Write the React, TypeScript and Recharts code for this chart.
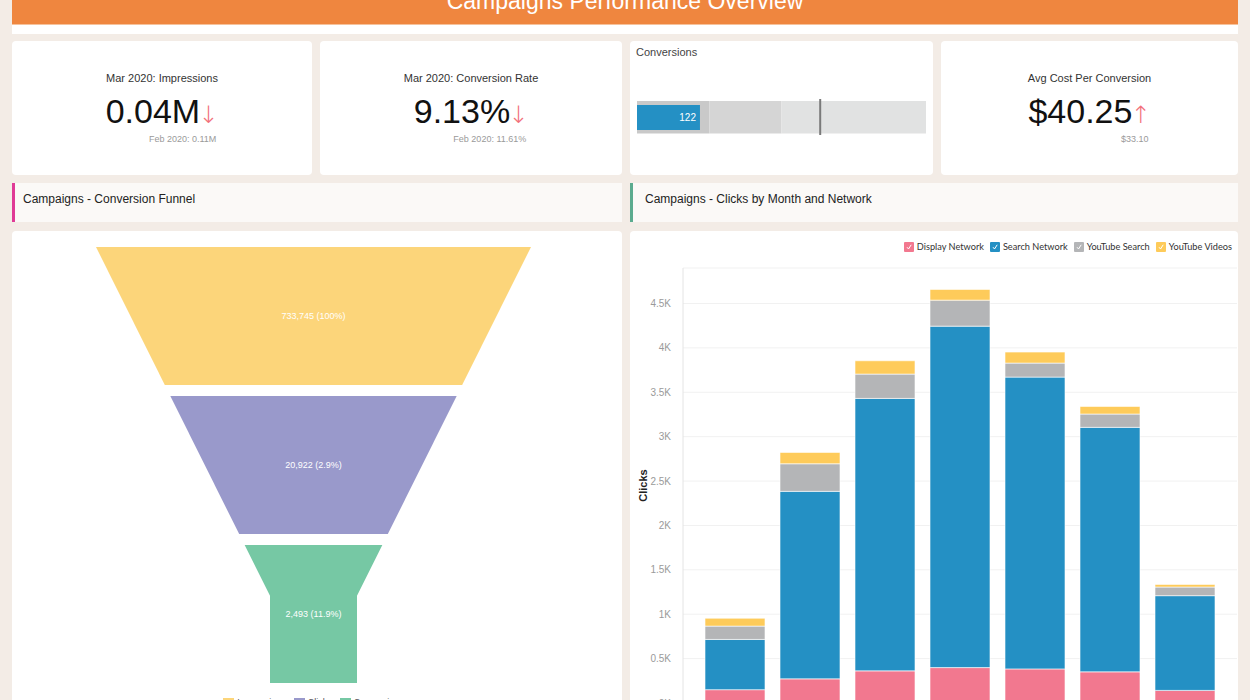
import React from 'react';
import {
  BarChart,
  Bar,
  XAxis,
  YAxis,
  CartesianGrid,
  Label,
  FunnelChart,
  Funnel,
  ComposedChart,
  ReferenceLine,
  LabelList,
} from 'recharts';

// clicks by month and network
const months = ['Sep 2019', 'Oct 2019', 'Nov 2019', 'Dec 2019', 'Jan 2020', 'Feb 2020', 'Mar 2020'];
const displayNetwork = [150, 272, 362, 399, 384, 351, 142];
const searchNetwork = [566, 2112, 3069, 3846, 3287, 2754, 1067];
const youtubeSearch = [150, 311, 274, 293, 158, 150, 97];
const youtubeVideos = [89, 128, 150, 121, 124, 86, 30];
const clickTicks = [0, 500, 1000, 1500, 2000, 2500, 3000, 3500, 4000, 4500];

const networkSeries = [
  { key: 'display', name: 'Display Network', color: '#f2788f', values: displayNetwork },
  { key: 'search', name: 'Search Network', color: '#2490c4', values: searchNetwork },
  { key: 'ytSearch', name: 'YouTube Search', color: '#b4b5b7', values: youtubeSearch },
  { key: 'ytVideos', name: 'YouTube Videos', color: '#fecb5a', values: youtubeVideos },
];

// conversion funnel
const funnelStages = ['Impressions', 'Clicks', 'Conversions'];
const funnelValues = [733745, 20922, 2493];
const funnelColors = ['#fcd57a', '#9999cb', '#76c8a4'];

// conversions bullet
const conversionsValue = 122;
const conversionsTarget = 355;
const conversionsRanges = [140, 280, 560];
const rangeColors = ['#c9c9c9', '#d5d5d5', '#e1e2e2'];

// kpi cards
const kpiTitles = ['Mar 2020: Impressions', 'Mar 2020: Conversion Rate', 'Avg Cost Per Conversion'];
const kpiValues = ['0.04M', '9.13%', '$40.25'];
const kpiTrends = ['down', 'down', 'up'];
const kpiPrevious = ['Feb 2020: 0.11M', 'Feb 2020: 11.61%', '$33.10'];
const kpiBoxes = [
  { left: 12, width: 300 },
  { left: 320, width: 302 },
  { left: 941, width: 297 },
];

const clicksData = months.map((m, i) => {
  const row: Record<string, any> = { month: m };
  networkSeries.forEach((s) => (row[s.key] = s.values[i]));
  return row;
});

const funnelData = funnelStages.map((name, i) => ({
  name,
  value: funnelValues[i],
  pct: i === 0 ? '100%' : ((funnelValues[i] / funnelValues[i - 1]) * 100).toFixed(1) + '%',
}));

const bulletData = [
  {
    name: 'Conversions',
    r0: conversionsRanges[0],
    r1: conversionsRanges[1] - conversionsRanges[0],
    r2: conversionsRanges[2] - conversionsRanges[1],
    value: conversionsValue,
  },
];

const FONT = '"Liberation Sans", Arial, Helvetica, sans-serif';

// funnel geometry (one cone with a neck, split in equal rows)
const FUNNEL_TOP = 16;
const FUNNEL_CX = 301.5;
const FUNNEL_W = 435;
const NECK_W = 0.2;
const NECK_H = 0.2;
const FUNNEL_GAP = 11;

function FunnelSegment(props: any) {
  const { y, height } = props;
  const idx = Math.round((y - FUNNEL_TOP) / height);
  const total = height * funnelData.length - FUNNEL_GAP;
  const neckY = FUNNEL_TOP + total * (1 - NECK_H);
  const neckW = FUNNEL_W * NECK_W;
  const halfAt = (yy: number) =>
    yy >= neckY ? neckW / 2 : (FUNNEL_W - ((FUNNEL_W - neckW) * (yy - FUNNEL_TOP)) / (neckY - FUNNEL_TOP)) / 2;
  const y0 = y;
  const y1 = y + height - FUNNEL_GAP;
  const ys = [y0];
  if (neckY > y0 && neckY < y1) ys.push(neckY);
  ys.push(y1);
  const left = ys.map((yy) => `${FUNNEL_CX - halfAt(yy)},${yy}`);
  const right = ys
    .slice()
    .reverse()
    .map((yy) => `${FUNNEL_CX + halfAt(yy)},${yy}`);
  const d = funnelData[idx];
  return (
    <g>
      <polygon points={[...left, ...right].join(' ')} fill={funnelColors[idx]} />
      <text x={FUNNEL_CX} y={(y0 + y1) / 2 + 3} textAnchor="middle" fill="#fff" fontSize={9} fontFamily={FONT}>
        {d.value.toLocaleString('en-US')} ({d.pct})
      </text>
    </g>
  );
}

function Check({ color }: { color: string }) {
  return (
    <svg width={10} height={10} style={{ display: 'block' }}>
      <rect width={10} height={10} rx={1} fill={color} />
      <polyline points="3,5.2 4.5,7 7.2,2.8" fill="none" stroke="#fff" strokeWidth={1} />
    </svg>
  );
}

function KpiCard({ i }: { i: number }) {
  const box = kpiBoxes[i];
  return (
    <div style={{ position: 'absolute', top: 41, left: box.left, width: box.width, height: 134, background: '#fff', borderRadius: 4 }}>
      <div style={{ position: 'absolute', top: 30, width: '100%', textAlign: 'center', fontSize: 11, lineHeight: '14px', color: '#333' }}>
        {kpiTitles[i]}
      </div>
      <div style={{ position: 'absolute', top: 51, width: '100%', textAlign: 'center' }}>
        <div style={{ display: 'inline-block', textAlign: 'right' }}>
          <div style={{ fontSize: 34, lineHeight: '38px', color: '#111', whiteSpace: 'nowrap' }}>
            {kpiValues[i]}
            <span style={{ fontSize: 24, color: '#f2707a', fontFamily: '"DejaVu Sans", sans-serif', fontWeight: 200, marginLeft: -2 }}>
              {kpiTrends[i] === 'down' ? '↓' : '↑'}
            </span>
          </div>
          <div style={{ fontSize: 9, lineHeight: '12px', color: '#9a9a9a', marginTop: -1, marginRight: 2 }}>{kpiPrevious[i]}</div>
        </div>
      </div>
    </div>
  );
}

export default function App() {
  return (
    <div style={{ position: 'fixed', left: 0, top: 0, width: 1250, height: 700, overflow: 'hidden', background: '#f3ece6', fontFamily: FONT }}>
      {/* header */}
      <div style={{ position: 'absolute', left: 12, top: 0, width: 1226, height: 34, background: '#fff' }} />
      <div style={{ position: 'absolute', left: 12, top: 0, width: 1226, height: 24, background: '#ef863f', borderBottom: '1px solid #f6c29c' }} />
      <div style={{ position: 'absolute', left: 12, top: -10, width: 1226, textAlign: 'center', fontSize: 23, lineHeight: '23px', color: '#fff' }}>
        Campaigns Performance Overview
      </div>

      {/* kpis */}
      <KpiCard i={0} />
      <KpiCard i={1} />
      <KpiCard i={2} />
      <div style={{ position: 'absolute', top: 41, left: 630, width: 303, height: 134, background: '#fff', borderRadius: 4 }}>
        <div style={{ position: 'absolute', top: 4, left: 6, fontSize: 11, lineHeight: '14px', color: '#444' }}>Conversions</div>
        <div style={{ position: 'absolute', top: 58, left: 7 }}>
          <ComposedChart layout="vertical" width={289} height={36} data={bulletData} margin={{ top: 0, right: 0, bottom: 0, left: 0 }} barCategoryGap={0}>
            <XAxis type="number" domain={[0, conversionsRanges[2]]} hide />
            <YAxis yAxisId="range" type="category" dataKey="name" hide />
            <YAxis yAxisId="value" type="category" dataKey="name" hide />
            <Bar yAxisId="range" dataKey="r0" stackId="r" fill={rangeColors[0]} barSize={36} isAnimationActive={false} />
            <Bar yAxisId="range" dataKey="r1" stackId="r" fill={rangeColors[1]} barSize={36} isAnimationActive={false} />
            <Bar yAxisId="range" dataKey="r2" stackId="r" fill={rangeColors[2]} barSize={36} isAnimationActive={false} />
            <Bar yAxisId="value" dataKey="value" fill="#2490c4" barSize={25} isAnimationActive={false}>
              <LabelList dataKey="value" position="insideRight" offset={4} fill="#fff" fontSize={10} fontFamily={FONT} />
            </Bar>
            <ReferenceLine yAxisId="value" x={conversionsTarget} stroke="#7a7a7a" strokeWidth={2} />
          </ComposedChart>
        </div>
      </div>

      {/* section headers */}
      <div style={{ position: 'absolute', left: 12, top: 183, width: 607, height: 39, background: '#fbf9f7', borderLeft: '3px solid #e03a96' }}>
        <div style={{ position: 'absolute', left: 8, top: 9, fontSize: 12, lineHeight: '14px', color: '#222' }}>Campaigns - Conversion Funnel</div>
      </div>
      <div style={{ position: 'absolute', left: 630, top: 183, width: 605, height: 39, background: '#fbf9f7', borderLeft: '3px solid #5bab8f' }}>
        <div style={{ position: 'absolute', left: 12, top: 9, fontSize: 12, lineHeight: '14px', color: '#222' }}>Campaigns - Clicks by Month and Network</div>
      </div>

      {/* funnel panel */}
      <div style={{ position: 'absolute', left: 12, top: 231, width: 610, height: 480, background: '#fff', borderRadius: 4 }}>
        <FunnelChart width={610} height={490} margin={{ top: FUNNEL_TOP, right: 7, bottom: 27, left: 0 }}>
          <Funnel data={funnelData} dataKey="value" nameKey="name" shape={FunnelSegment} isAnimationActive={false} />
        </FunnelChart>
        <div style={{ position: 'absolute', top: 466, left: 0, width: 603, display: 'flex', justifyContent: 'center', gap: 8 }}>
          {funnelStages.map((s, i) => (
            <div key={s} style={{ display: 'flex', alignItems: 'center', gap: 3, fontSize: 9, color: '#555' }}>
              <div style={{ width: 11, height: 8, background: funnelColors[i] }} />
              {s}
            </div>
          ))}
        </div>
      </div>

      {/* clicks panel */}
      <div style={{ position: 'absolute', left: 630, top: 231, width: 608, height: 480, background: '#fff', borderRadius: 4 }}>
        <BarChart width={608} height={520} data={clicksData} margin={{ top: 37, right: 1, bottom: 18, left: 10 }}>
          <CartesianGrid vertical={false} stroke="#f1f1f1" />
          <XAxis dataKey="month" height={30} padding={{ left: 14, right: 15 }} tickLine={false} axisLine={false} tick={{ fontSize: 10, fill: '#999' }} />
          <YAxis
            width={43}
            domain={[0, 4900]}
            ticks={clickTicks}
            tickLine={false}
            axisLine={{ stroke: '#e4e4e4' }}
            tickMargin={6}
            tick={{ fontSize: 10, fill: '#9a9a9a', fontFamily: FONT }}
            tickFormatter={(v: number) => `${v / 1000}K`}
          >
            <Label
              content={({ viewBox }: any) => {
                const cy = viewBox.y + viewBox.height / 2;
                return (
                  <text x={13} y={cy} transform={`rotate(-90, 13, ${cy})`} textAnchor="middle" dominantBaseline="central" fontSize={11} fontWeight="bold" fill="#222" fontFamily={FONT}>
                    Clicks
                  </text>
                );
              }}
            />
          </YAxis>
          {networkSeries.map((s) => (
            <Bar key={s.key} dataKey={s.key} name={s.name} stackId="a" fill={s.color} barSize={60} stroke="#fff" strokeWidth={0.6} isAnimationActive={false} />
          ))}
        </BarChart>
        <div style={{ position: 'absolute', top: 10, right: 6, display: 'flex', gap: 6, fontFamily: 'Lato, sans-serif', fontSize: 9.2, color: '#333' }}>
          {networkSeries.map((s) => (
            <div key={s.key} style={{ display: 'flex', alignItems: 'center', gap: 3 }}>
              <Check color={s.color} />
              {s.name}
            </div>
          ))}
        </div>
      </div>
    </div>
  );
}
